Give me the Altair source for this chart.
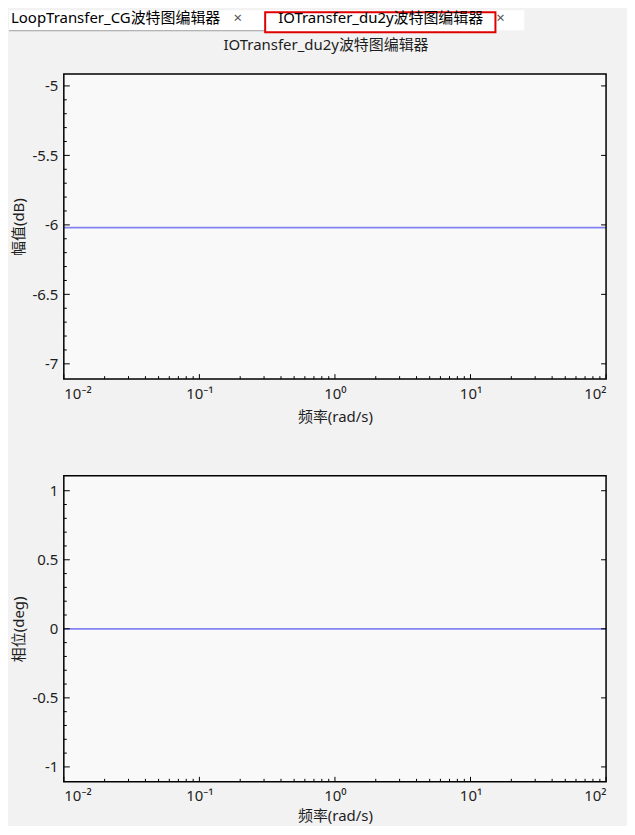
import altair as alt
import pandas as pd

# ---------------- data ----------------
freq = [0.01, 0.1, 1, 10, 100]
mag_db = [-6.02, -6.02, -6.02, -6.02, -6.02]
phase_deg = [0, 0, 0, 0, 0]

x_major = [0.01, 0.1, 1, 10, 100]
x_major_labels = ["10⁻²", "10⁻¹", "10⁰", "10¹", "10²"]
x_minor = [0.02, 0.03, 0.04, 0.05, 0.06, 0.07, 0.08, 0.09,
           0.2, 0.3, 0.4, 0.5, 0.6, 0.7, 0.8, 0.9,
           2, 3, 4, 5, 6, 7, 8, 9,
           20, 30, 40, 50, 60, 70, 80, 90]

mag_domain = [-7.11, -4.915]
mag_major = [-7, -6.5, -6, -5.5, -5]
mag_minor = [-6.9, -6.8, -6.7, -6.6, -6.4, -6.3, -6.2, -6.1,
             -5.9, -5.8, -5.7, -5.6, -5.4, -5.3, -5.2, -5.1]

phase_domain = [-1.108, 1.108]
phase_major = [-1, -0.5, 0, 0.5, 1]
phase_minor = [-0.9, -0.8, -0.7, -0.6, -0.4, -0.3, -0.2, -0.1,
               0.1, 0.2, 0.3, 0.4, 0.6, 0.7, 0.8, 0.9]

tab_titles = ["LoopTransfer_CG波特图编辑器", "IOTransfer_du2y波特图编辑器"]
close_mark = ["×", "×"]
window_title = ["IOTransfer_du2y波特图编辑器"]
x_title = "频率(rad/s)"
mag_title = "幅值(dB)"
phase_title = "相位(deg)"

# ---------------- style ----------------
FONT = "Noto Sans, Noto Sans CJK SC"
W = 544
LINE_COLOR = "#8383f2"
WIN_BG = "#f2f2f2"
PLOT_BG = "#f9f9f9"
TXT = "#1e1e1e"
LEFT = -55      # chart left edge relative to plot origin
RIGHT = 564     # chart right edge relative to plot origin

label_expr = " : ".join(
    f"datum.value == {v} ? '{l}'" for v, l in zip(x_major, x_major_labels)
) + " : ''"

one = pd.DataFrame({"k": [0]})


def rect(x, x2, y, y2, **kw):
    return alt.Chart(one).mark_rect(**kw).encode(
        x=alt.value(x), x2=alt.value(x2), y=alt.value(y), y2=alt.value(y2))


def rule(x, x2, y, y2, **kw):
    return alt.Chart(one).mark_rule(**kw).encode(
        x=alt.value(x), x2=alt.value(x2), y=alt.value(y), y2=alt.value(y2))


def panel(H, values, ydomain, ymajor, yminor, ytitle, xtitle_off, top, bottom, header):
    xs = alt.Scale(type="log", domain=[0.01, 100], nice=False)
    ys = alt.Scale(domain=ydomain, nice=False, zero=False)
    xaxis = alt.Axis(values=x_major, labelExpr=label_expr, ticks=False, tickSize=0,
                     domain=False, grid=False, labelPadding=7, title=x_title,
                     titleY=xtitle_off, titleBaseline="middle", zindex=2)
    yaxis = alt.Axis(values=ymajor, labelExpr="'' + datum.value", ticks=False, tickSize=0,
                     domain=False, grid=False, labelPadding=6, title=ytitle,
                     titleX=-45, titleY=H / 2, titleBaseline="middle", titleAngle=270,
                     zindex=2)

    def X():
        return alt.X("freq:Q", scale=xs, axis=xaxis)

    def Y():
        return alt.Y("val:Q", scale=ys, axis=yaxis)

    layers = [rect(LEFT, RIGHT, top, bottom, color=WIN_BG)]

    if header:
        layers += [
            rect(LEFT, 462, top, top + 20, color="white"),
            rule(LEFT, 202, top + 20.5, top + 20.5, color="#a0a0a0", strokeWidth=1),
            rect(202, 433, top + 2, top + 22, fill="white", stroke="#e00000", strokeWidth=2),
            alt.Chart(pd.DataFrame({"t": [tab_titles[0]]})).mark_text(
                font=FONT, fontSize=15, color="black", align="left", baseline="middle"
            ).encode(x=alt.value(-53), y=alt.value(top + 8), text="t:N"),
            alt.Chart(pd.DataFrame({"t": [tab_titles[1]]})).mark_text(
                font=FONT, fontSize=15, color="black", align="left", baseline="middle"
            ).encode(x=alt.value(215), y=alt.value(top + 8), text="t:N"),
            alt.Chart(pd.DataFrame({"t": [close_mark[0]]})).mark_text(
                font=FONT, fontSize=15, color="#555555", align="center", baseline="middle"
            ).encode(x=alt.value(174.5), y=alt.value(top + 8), text="t:N"),
            alt.Chart(pd.DataFrame({"t": [close_mark[1]]})).mark_text(
                font=FONT, fontSize=15, color="#555555", align="center", baseline="middle"
            ).encode(x=alt.value(438), y=alt.value(top + 8), text="t:N"),
            alt.Chart(pd.DataFrame({"t": window_title})).mark_text(
                font=FONT, fontSize=15, color=TXT, align="center", baseline="middle"
            ).encode(x=alt.value(263), y=alt.value(-29), text="t:N"),
        ]

    layers += [
        rect(0, W, 0, H, color=PLOT_BG),
        alt.Chart(pd.DataFrame({"freq": freq, "val": values})).mark_line(
            color=LINE_COLOR, strokeWidth=1.7).encode(x=X(), y=Y()),
        # inward ticks on the bottom edge
        alt.Chart(pd.DataFrame({"freq": x_major})).mark_rule(color="black", strokeWidth=1)
        .encode(x=X(), y=alt.value(H - 5), y2=alt.value(H)),
        alt.Chart(pd.DataFrame({"freq": x_minor})).mark_rule(color="black", strokeWidth=1)
        .encode(x=X(), y=alt.value(H - 3), y2=alt.value(H)),
        # inward ticks on the left edge
        alt.Chart(pd.DataFrame({"val": ymajor})).mark_rule(color="black", strokeWidth=1)
        .encode(y=Y(), x=alt.value(0), x2=alt.value(6)),
        alt.Chart(pd.DataFrame({"val": yminor})).mark_rule(color="black", strokeWidth=1)
        .encode(y=Y(), x=alt.value(0), x2=alt.value(3)),
        # inward ticks on the right edge
        alt.Chart(pd.DataFrame({"val": ymajor})).mark_rule(color="black", strokeWidth=1)
        .encode(y=Y(), x=alt.value(W - 5), x2=alt.value(W)),
        # frame
        rect(0, W, 0, H, fillOpacity=0, stroke="black", strokeWidth=1.5),
    ]

    return alt.layer(*layers).properties(width=W, height=H)


top_panel = panel(306, mag_db, mag_domain, mag_major, mag_minor, mag_title, 38, -64, 366, True)
bottom_panel = panel(307, phase_deg, phase_domain, phase_major, phase_minor, phase_title, 34, -35, 348, False)

chart = alt.vconcat(top_panel, bottom_panel, spacing=0, padding=0).configure(
    background=WIN_BG
).configure_view(
    stroke="transparent"
).configure_axis(
    labelFont=FONT, labelFontSize=15, labelColor=TXT,
    titleFont=FONT, titleFontSize=15, titleFontWeight="normal", titleColor=TXT,
)

chart.save("out.html", embed_options={"renderer": "svg", "actions": False})
